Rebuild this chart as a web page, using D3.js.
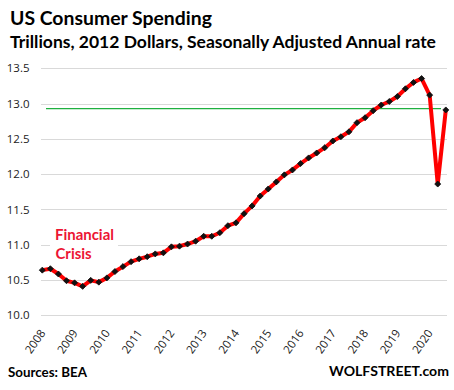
<!DOCTYPE html>
<html><head><meta charset="utf-8">
<script src="https://cdn.jsdelivr.net/npm/d3@7"></script>
<style>
html,body{margin:0;padding:0;background:#fff;}
svg{display:block;}
</style></head>
<body><svg id="chart" width="454" height="390"></svg>
<script>
// Quarterly data, 2008 Q1 .. 2020 Q3 (trillions, 2012 dollars, SAAR)
const quarters = [];
for (let y = 2008; y <= 2020; y++) for (let q = 1; q <= 4; q++) if (!(y === 2020 && q === 4)) quarters.push(y + " Q" + q);
const spending = [
  10.64, 10.66, 10.585, 10.49,
  10.46, 10.41, 10.495, 10.47,
  10.53, 10.62, 10.69, 10.76,
  10.80, 10.83, 10.87, 10.885,
  10.97, 10.98, 11.01, 11.05,
  11.12, 11.12, 11.17, 11.27,
  11.31, 11.44, 11.55, 11.69,
  11.79, 11.89, 11.99, 12.06,
  12.15, 12.23, 12.30, 12.375,
  12.47, 12.53, 12.60, 12.73,
  12.80, 12.90, 12.98, 13.03,
  13.10, 13.21, 13.30, 13.355,
  13.12, 11.86, 12.91
];
const yearLabels = ["2008","2009","2010","2011","2012","2013","2014","2015","2016","2017","2018","2019","2020"];
const yTicks = [10.0, 10.5, 11.0, 11.5, 12.0, 12.5, 13.0, 13.5];
const referenceLevel = [12.93];

const svg = d3.select("#chart");
const x = d3.scaleLinear().domain([0, spending.length - 1]).range([42.3, 445.8]);
const y = d3.scaleLinear().domain([10, 13.5]).range([315.3, 68.3]);

function fit(sel, target) {
  const n = sel.node();
  const fs = parseFloat(sel.attr("font-size"));
  const w = n.getComputedTextLength();
  if (w > 0) sel.attr("font-size", (fs * target / w).toFixed(2));
}

// gridlines
svg.append("g").selectAll("line").data(yTicks).join("line")
  .attr("x1", 41).attr("x2", 447)
  .attr("y1", d => Math.round(y(d)) + 0.5).attr("y2", d => Math.round(y(d)) + 0.5)
  .attr("stroke", "#d9d9d9").attr("stroke-width", 1);

// y tick labels
svg.append("g").selectAll("text").data(yTicks).join("text")
  .attr("x", 29.5).attr("y", d => y(d)).attr("dy", "0.36em")
  .attr("text-anchor", "end")
  .attr("font-family", "'Open Sans', sans-serif").attr("font-size", 11.5)
  .attr("fill", "#222")
  .text(d => d.toFixed(1));

// x labels
svg.append("g").selectAll("text").data(yearLabels).join("text")
  .attr("transform", (d, i) => `translate(${x(i * 4) + 3.7},333) rotate(-55)`)
  .attr("text-anchor", "end")
  .attr("font-family", "'Open Sans', sans-serif").attr("font-size", 11.5)
  .attr("fill", "#222")
  .text(d => d);

// reference green line
svg.append("g").selectAll("line").data(referenceLevel).join("line")
  .attr("x1", 46).attr("x2", 441)
  .attr("y1", d => y(d)).attr("y2", d => y(d))
  .attr("stroke", "#1fb040").attr("stroke-width", 1.3);

// Financial Crisis annotation
svg.append("rect").attr("x", 50).attr("y", 228).attr("width", 68).attr("height", 34).attr("fill", "#fff");
const fin = svg.append("text").attr("x", 55).attr("y", 240)
  .attr("font-family", "Lato, sans-serif").attr("font-weight", "bold").attr("font-size", 14)
  .attr("fill", "#ec1533").text("Financial");
fit(fin, 59);
const cri = svg.append("text").attr("x", 55.5).attr("y", 259.3)
  .attr("font-family", "Lato, sans-serif").attr("font-weight", "bold").attr("font-size", 14)
  .attr("fill", "#ec1533").text("Crisis");
cri.attr("font-size", fin.attr("font-size"));

// line
const line = d3.line().x((d, i) => x(i)).y(d => y(d));
svg.append("path").datum(spending).attr("d", line)
  .attr("fill", "none").attr("stroke", "#ff0000").attr("stroke-width", 4)
  .attr("stroke-linejoin", "round");

// markers
svg.append("g").selectAll("path").data(spending).join("path")
  .attr("transform", (d, i) => `translate(${x(i)},${y(d)}) rotate(45)`)
  .attr("d", d3.symbol().type(d3.symbolSquare).size(18))
  .attr("fill", "#111").attr("stroke", "#111").attr("stroke-width", 0.8).attr("stroke-linejoin", "round");

// titles
const t1 = svg.append("text").attr("x", 10).attr("y", 25)
  .attr("font-family", "Lato, sans-serif").attr("font-weight", "bold").attr("font-size", 19)
  .attr("fill", "#000").text("US Consumer Spending");
fit(t1, 202);
const t2 = svg.append("text").attr("x", 10).attr("y", 48.3)
  .attr("font-family", "Lato, sans-serif").attr("font-weight", "bold").attr("font-size", 17)
  .attr("fill", "#000").text("Trillions, 2012 Dollars, Seasonally Adjusted Annual rate");
fit(t2, 426);

const s1 = svg.append("text").attr("x", 8).attr("y", 376.5)
  .attr("font-family", "Lato, sans-serif").attr("font-weight", "bold").attr("font-size", 13)
  .attr("fill", "#000").text("Sources: BEA");
fit(s1, 79);
const s2 = svg.append("text").attr("x", 449).attr("y", 376)
  .attr("text-anchor", "end")
  .attr("font-family", "Lato, sans-serif").attr("font-weight", "bold").attr("font-size", 15)
  .attr("fill", "#000").text("WOLFSTREET.com");
fit(s2, 120);
</script>
</body></html>
